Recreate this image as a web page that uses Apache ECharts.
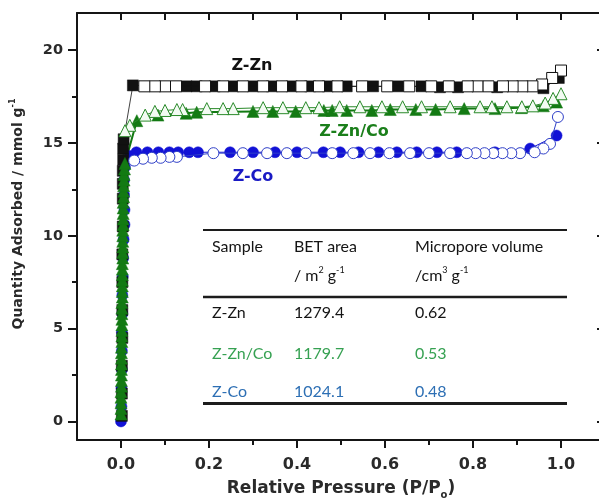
<!DOCTYPE html>
<html>
<head>
<meta charset="utf-8">
<script src="https://cdn.jsdelivr.net/npm/echarts@6/dist/echarts.min.js"></script>
<style>
html,body{margin:0;padding:0;background:#fff;}
#main{width:599px;height:502px;}
</style>
</head>
<body>
<div id="main"></div>
<script>
// ---------------- data ----------------
const xMajorTicks = [0, 0.2, 0.4, 0.6, 0.8, 1.0];
const xMinorTicks = [0.1, 0.3, 0.5, 0.7, 0.9];
const xAllTicks = [0, 0.1, 0.2, 0.3, 0.4, 0.5, 0.6, 0.7, 0.8, 0.9, 1.0];
const yMajorTicks = [0, 5, 10, 15, 20];
const yMinorTicks = [2.5, 7.5, 12.5, 17.5];

// Z-Zn (black squares): adsorption filled, desorption open
const zZnAdsorption = [
  [0.002,0.3],[0.002,1.5],[0.002,3.0],[0.003,4.5],[0.003,6.0],[0.003,7.5],[0.003,9.0],
  [0.004,10.5],[0.004,12.0],[0.004,12.8],[0.004,13.5],[0.005,14.1],[0.005,14.7],[0.006,15.2],
  [0.027,18.1],[0.149,18.05],[0.172,18.05],[0.213,18.05],[0.255,18.05],[0.300,18.05],
  [0.343,18.05],[0.388,18.05],[0.430,18.05],[0.470,18.05],[0.513,18.05],[0.573,18.05],
  [0.630,18.05],[0.683,18.05],[0.725,18.0],[0.766,18.0],[0.855,18.0],[0.960,17.95],[0.995,18.5]
];
const zZnDesorption = [
  [1.000,18.9],[0.980,18.5],[0.957,18.15],[0.935,18.05],[0.912,18.05],[0.890,18.05],
  [0.868,18.05],[0.835,18.05],[0.810,18.05],[0.788,18.05],[0.745,18.05],[0.705,18.05],
  [0.655,18.05],[0.605,18.05],[0.548,18.05],[0.492,18.05],[0.450,18.05],[0.410,18.05],
  [0.366,18.05],[0.323,18.05],[0.277,18.05],[0.232,18.05],[0.191,18.05],[0.125,18.05],
  [0.100,18.05],[0.077,18.05],[0.053,18.05]
];

// Z-Zn/Co (green triangles)
const zZnCoAdsorption = [
  [0.000,0.4],[0.000,0.7],[0.000,1.0],[0.000,1.3],[0.000,1.6],[0.001,1.9],[0.001,2.2],
  [0.001,2.5],[0.001,2.8],[0.001,3.1],[0.001,3.4],[0.001,3.7],[0.001,4.0],[0.002,4.3],
  [0.002,4.6],[0.002,4.9],[0.002,5.2],[0.002,5.5],[0.002,5.8],[0.002,6.1],[0.002,6.4],
  [0.003,6.7],[0.003,7.0],[0.003,7.3],[0.003,7.6],[0.003,7.9],[0.003,8.2],[0.003,8.5],
  [0.004,8.8],[0.004,9.1],[0.004,9.4],[0.004,9.7],[0.004,10.0],[0.004,10.3],[0.005,10.6],
  [0.005,10.9],[0.005,11.2],[0.005,11.5],[0.005,11.8],[0.006,12.1],[0.006,12.4],[0.006,12.7],
  [0.007,13.0],[0.007,13.3],[0.008,13.6],[0.009,13.9],
  [0.036,16.2],[0.084,16.5],[0.148,16.6],[0.172,16.65],[0.300,16.7],[0.345,16.7],
  [0.397,16.7],[0.461,16.75],[0.480,16.75],[0.513,16.75],[0.570,16.75],[0.612,16.8],
  [0.670,16.8],[0.715,16.8],[0.780,16.85],[0.850,16.85],[0.910,16.9],[0.960,17.0],[0.990,17.2]
];
const zZnCoDesorption = [
  [1.000,17.65],[0.982,17.4],[0.964,17.15],[0.936,17.0],[0.911,16.95],[0.877,16.95],
  [0.843,16.95],[0.816,16.95],[0.748,16.95],[0.683,16.95],[0.640,16.95],[0.593,16.95],
  [0.543,16.95],[0.497,16.95],[0.450,16.9],[0.420,16.9],[0.368,16.9],[0.323,16.9],
  [0.255,16.85],[0.232,16.85],[0.195,16.85],[0.140,16.8],[0.127,16.8],[0.100,16.75],
  [0.077,16.7],[0.055,16.5],[0.020,15.95],[0.009,15.66]
];

// Z-Co (blue circles)
const zCoAdsorption = [
  [0.000,0.0],[0.001,0.8],[0.001,1.8],[0.002,2.8],[0.002,3.8],[0.002,4.8],[0.003,5.8],
  [0.003,6.8],[0.004,7.8],[0.005,8.8],[0.006,9.8],[0.008,10.6],[0.008,11.4],[0.007,12.2],
  [0.007,13.0],[0.009,13.7],[0.020,14.3],
  [0.035,14.5],[0.060,14.5],[0.085,14.5],[0.110,14.5],[0.130,14.5],[0.155,14.5],[0.175,14.5],
  [0.248,14.5],[0.300,14.5],[0.350,14.5],[0.400,14.5],[0.460,14.5],[0.498,14.5],[0.540,14.5],
  [0.585,14.5],[0.627,14.5],[0.672,14.5],[0.718,14.5],[0.763,14.5],[0.850,14.5],[0.930,14.7],[0.990,15.4]
];
const zCoDesorption = [
  [0.993,16.4],[0.975,14.95],[0.960,14.7],[0.940,14.5],[0.907,14.45],[0.887,14.45],
  [0.867,14.45],[0.846,14.45],[0.826,14.45],[0.806,14.45],[0.786,14.45],[0.748,14.45],
  [0.700,14.45],[0.657,14.45],[0.610,14.45],[0.566,14.45],[0.528,14.45],[0.480,14.45],
  [0.420,14.45],[0.377,14.45],[0.332,14.45],[0.277,14.45],[0.210,14.45],[0.127,14.25],
  [0.110,14.25],[0.090,14.2],[0.070,14.2],[0.050,14.15],[0.030,14.05]
];

// inset table
const tableHeader1 = ['Sample', 'BET area', 'Micropore volume'];
const tableHeader2 = ['', '/ m{s|2} g{s|-1}', '/cm{s|3} g{s|-1}'];
const sampleNames = ['Z-Zn', 'Z-Zn/Co', 'Z-Co'];
const betArea = ['1279.4', '1179.7', '1024.1'];
const microporeVolume = ['0.62', '0.53', '0.48'];

// ---------------- chart ----------------
const BLACK = '#111111', GREEN = '#137a13', BLUE = '#1212d6';
const tableColors = ['#141414', '#36a152', '#2d6fb4'];
const AX = '#151515';
const chart = echarts.init(document.getElementById('main'), null, {renderer: 'canvas'});

function filled(name, data, symbol, size, color, lw) {
  return {
    name, type: 'line', data, symbol, symbolSize: size,
    itemStyle: {color: color, borderColor: color, borderWidth: 0.5},
    lineStyle: {color: color, width: lw},
    xAxisIndex: 0, yAxisIndex: 0, animation: false, z: 3
  };
}
function open(name, data, symbol, size, color, fill, lw) {
  return {
    name, type: 'line', data, symbol, symbolSize: size,
    itemStyle: {color: fill, borderColor: color, borderWidth: 1},
    lineStyle: {color: color, width: lw},
    xAxisIndex: 0, yAxisIndex: 0, animation: false, z: 4
  };
}

const tickFont = {fontFamily: 'DejaVu Sans', fontWeight: 'bold', color: '#2a2a2a'};
const tableFont = 'Lato';

const graphics = [];
// axis title (y)
graphics.push({
  type: 'text', x: 18, y: 214, rotation: Math.PI / 2,
  style: {
    text: '{a|Quantity Adsorbed / mmol g}{s|-1}',
    align: 'center', verticalAlign: 'middle',
    rich: {
      a: {fontFamily: 'DejaVu Sans', fontWeight: 'bold', fontSize: 14, fill: '#2a2a2a', lineHeight: 18},
      s: {fontFamily: 'DejaVu Sans', fontWeight: 'bold', fontSize: 8, fill: '#2a2a2a', lineHeight: 18, verticalAlign: 'top'}
    }
  }
});
// in-plot labels
const plotLabels = [
  {t: 'Z-Zn', x: 252, y: 66, c: BLACK},
  {t: 'Z-Zn/Co', x: 354, y: 132, c: '#1b7f1b'},
  {t: 'Z-Co', x: 253, y: 177, c: '#1a1ac4'}
];
plotLabels.forEach(l => graphics.push({
  type: 'text', x: l.x, y: l.y, z: 10,
  style: {text: l.t, fontFamily: 'DejaVu Sans', fontWeight: 'bold', fontSize: 16, fill: l.c, align: 'center', verticalAlign: 'middle'}
}));
// table
const colX = [212, 294, 415];
const tl = 203, tr = 567;
[[230, 2], [297, 2.5], [403.5, 3]].forEach(([y, w]) => graphics.push({
  type: 'line', z: 10, shape: {x1: tl, y1: y, x2: tr, y2: y}, style: {stroke: '#1c1c1c', lineWidth: w}
}));
const richTbl = {
  n: {fontFamily: tableFont, fontSize: 16, fill: '#141414', lineHeight: 20},
  s: {fontFamily: tableFont, fontSize: 9, fill: '#141414', lineHeight: 17, verticalAlign: 'top'}
};
tableHeader1.forEach((t, i) => graphics.push({
  type: 'text', z: 10, x: colX[i], y: 247,
  style: {text: t, fontFamily: tableFont, fontSize: 16, fill: '#141414', align: 'left', verticalAlign: 'middle'}
}));
tableHeader2.forEach((t, i) => { if (t) graphics.push({
  type: 'text', z: 10, x: colX[i], y: 276,
  style: {text: '{n|' + t.replace(/\{s\|([^}]*)\}/g, '}{s|$1}{n|') + '}', rich: richTbl, align: 'left', verticalAlign: 'middle'}
}); });
const rowY = [313, 354, 392];
sampleNames.forEach((s, r) => {
  [s, betArea[r], microporeVolume[r]].forEach((t, i) => graphics.push({
    type: 'text', z: 10, x: colX[i], y: rowY[r],
    style: {text: t, fontFamily: tableFont, fontSize: 16, fill: tableColors[r], align: 'left', verticalAlign: 'middle'}
  }));
});

const option = {
  animation: false,
  backgroundColor: '#ffffff',
  grid: {left: 77, top: 13, right: -6, bottom: 62, containLabel: false, outerBoundsMode: 'none'},
  xAxis: [
    {
      type: 'value', position: 'bottom', min: -0.1, max: 1.1,
      axisLine: {show: true, onZero: false, lineStyle: {color: AX, width: 2}},
      axisTick: {show: true, inside: false, length: 8, lineStyle: {color: AX, width: 2}, customValues: xMajorTicks},
      axisLabel: Object.assign({show: true, fontSize: 16, margin: 17, customValues: xMajorTicks,
        formatter: v => v.toFixed(1)}, tickFont),
      splitLine: {show: false},
      name: '{a|Relative Pressure (P/P}{b|o}{a|)}',
      nameLocation: 'middle', nameGap: 38,
      nameTextStyle: {
        rich: {
          a: {fontFamily: 'DejaVu Sans', fontWeight: 'bold', fontSize: 17, color: '#2a2a2a', lineHeight: 22},
          b: {fontFamily: 'DejaVu Sans', fontWeight: 'bold', fontSize: 10, color: '#2a2a2a', lineHeight: 22, verticalAlign: 'bottom'}
        }
      }
    },
    {
      type: 'value', position: 'bottom', min: -0.1, max: 1.1,
      axisLine: {show: false, onZero: false},
      axisTick: {show: true, inside: false, length: 5, lineStyle: {color: AX, width: 2}, customValues: xMinorTicks},
      axisLabel: {show: false}, splitLine: {show: false}
    },
    {
      type: 'value', position: 'top', min: -0.1, max: 1.1,
      axisLine: {show: true, onZero: false, lineStyle: {color: AX, width: 2}},
      axisTick: {show: true, inside: true, length: 7, lineStyle: {color: AX, width: 2}, customValues: xAllTicks},
      axisLabel: {show: false}, splitLine: {show: false}
    }
  ],
  yAxis: [
    {
      type: 'value', position: 'left', min: -1, max: 22,
      axisLine: {show: true, onZero: false, lineStyle: {color: AX, width: 2}},
      axisTick: {show: true, inside: false, length: 9, lineStyle: {color: AX, width: 2}, customValues: yMajorTicks},
      axisLabel: Object.assign({show: true, fontSize: 14.5, margin: 14, customValues: yMajorTicks}, tickFont),
      splitLine: {show: false}
    },
    {
      type: 'value', position: 'left', min: -1, max: 22,
      axisLine: {show: false, onZero: false},
      axisTick: {show: true, inside: false, length: 5, lineStyle: {color: AX, width: 2}, customValues: yMinorTicks},
      axisLabel: {show: false}, splitLine: {show: false}
    },
    {
      type: 'value', position: 'right', min: -1, max: 22,
      axisLine: {show: true, onZero: false, lineStyle: {color: AX, width: 2}},
      axisTick: {show: true, inside: true, length: 8, lineStyle: {color: AX, width: 2}, customValues: yMajorTicks},
      axisLabel: {show: false}, splitLine: {show: false}
    }
  ],
  series: [
    filled('Z-Co adsorption', zCoAdsorption, 'circle', 11, BLUE, 1),
    filled('Z-Zn adsorption', zZnAdsorption, 'rect', 11, BLACK, 0.8),
    filled('Z-Zn/Co adsorption', zZnCoAdsorption, 'triangle', 12, GREEN, 2),
    open('Z-Zn desorption', zZnDesorption, 'rect', 11, BLACK, '#ffffff', 0.8),
    open('Z-Zn/Co desorption', zZnCoDesorption, 'triangle', 12, '#2a8a2a', '#f3fbf3', 1),
    open('Z-Co desorption', zCoDesorption, 'circle', 11, '#3040c8', '#ffffff', 1)
  ],
  graphic: graphics
};
chart.setOption(option);
</script>
</body>
</html>
